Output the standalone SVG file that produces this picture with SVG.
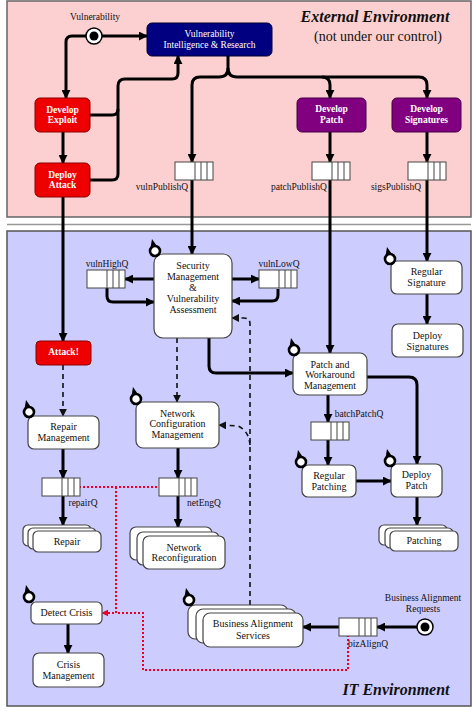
<svg xmlns="http://www.w3.org/2000/svg" width="474" height="711" viewBox="0 0 474 711">
<style>
text{font-family:"Liberation Serif","Times New Roman",serif;font-size:10px;fill:#111;text-anchor:middle}
.w{fill:#fff}
.b{font-weight:bold}
.ql{font-size:9.5px}
.node{fill:#fff;stroke:#444;stroke-width:1.2}
.red{fill:#ee0000;stroke:#800;stroke-width:1}
.pur{fill:#800080;stroke:#404;stroke-width:1}
.navy{fill:#000080;stroke:#003;stroke-width:1}
.c{fill:none;stroke:#000;stroke-width:3}
.d{fill:none;stroke:#111;stroke-width:1.6;stroke-dasharray:5,4}
.r{fill:none;stroke:#e8002a;stroke-width:2;stroke-dasharray:2,2}
</style>
<defs>
<marker id="a" viewBox="0 0 10 10" refX="9" refY="5" markerWidth="9" markerHeight="9" markerUnits="userSpaceOnUse" orient="auto"><path d="M0,0 L10,5 L0,10 z" fill="#000"/></marker>
<marker id="ad" viewBox="0 0 10 10" refX="9" refY="5" markerWidth="8" markerHeight="8" markerUnits="userSpaceOnUse" orient="auto"><path d="M0,0 L10,5 L0,10 z" fill="#111"/></marker>
<marker id="ar" viewBox="0 0 10 10" refX="9" refY="5" markerWidth="7" markerHeight="7" markerUnits="userSpaceOnUse" orient="auto"><path d="M0,0 L10,5 L0,10 z" fill="#e8002a"/></marker>
<g id="q"><rect x="0" y="0" width="38" height="18" fill="#fff" stroke="#444" stroke-width="1"/><path d="M20,0V18M26,0V18M32,0V18" stroke="#444" stroke-width="1"/></g>
<g id="loop"><path d="M-4.5,-3 L-3,-12 L1.5,-5.5 z" fill="#000"/><circle cx="0" cy="0" r="5" fill="#fff" stroke="#000" stroke-width="2.6"/></g>
</defs>

<!-- panels -->
<rect x="7" y="1" width="464" height="216" fill="#fcd0d0" stroke="#666" stroke-width="1.5"/>
<line x1="7" y1="224.5" x2="471" y2="224.5" stroke="#999" stroke-width="1.5"/>
<rect x="7" y="231" width="464" height="475" fill="#ccccff" stroke="#555" stroke-width="1.5"/>
<text x="375" y="22" style="font-size:16px;font-weight:bold;font-style:italic">External Environment</text>
<text x="378" y="41" style="font-size:14px">(not under our control)</text>
<text x="396" y="695" style="font-size:16px;font-weight:bold;font-style:italic">IT Environment</text>

<g id="connectors">
<path class="c" d="M102,36 L147,36" marker-end="url(#a)"/>
<path class="c" d="M86,36 L72,36 Q66,36 66,42 L66,98" marker-end="url(#a)"/>
<path class="c" d="M63,132 L63,163" marker-end="url(#a)"/>
<path class="c" d="M90,180 L112,180 Q118,180 118,174 L118,86 Q118,79 125,79 L172,79 Q178,79 178,73 L178,56" marker-end="url(#a)"/>
<path class="c" d="M90,115 L112,115 Q118,115 118,109"/>
<path class="c" d="M228,56 L228,68 Q228,77 219,77 L200,77 Q192,77 192,85 L192,162" marker-end="url(#a)"/>
<path class="c" d="M228,68 Q228,77 237,77 L322,77 Q330,77 330,85 L330,98" marker-end="url(#a)"/>
<path class="c" d="M322,77 L419,77 Q427,77 427,85 L427,98" marker-end="url(#a)"/>
<path class="c" d="M330,132 L330,162" marker-end="url(#a)"/>
<path class="c" d="M427,132 L427,162" marker-end="url(#a)"/>
<path class="c" d="M192,180 L192,254" marker-end="url(#a)"/>
<path class="c" d="M330,179 L330,353" marker-end="url(#a)"/>
<path class="c" d="M427,179 L427,261" marker-end="url(#a)"/>
<path class="c" d="M63,197 L63,341" marker-end="url(#a)"/>
<path class="c" d="M154,279 L125,279" marker-end="url(#a)"/>
<path class="c" d="M107,288 L107,296 Q107,302 113,302 L154,302" marker-end="url(#a)"/>
<path class="c" d="M232,279 L259,279" marker-end="url(#a)"/>
<path class="c" d="M278,289 L278,295 Q278,301 272,301 L232,301" marker-end="url(#a)"/>
<path class="d" d="M250,605 L250,324 Q250,318 244,318 L232,318" marker-end="url(#ad)"/>
<path class="d" d="M250,445 Q249,431 238,426 L219,425" marker-end="url(#ad)"/>
<path class="d" d="M177,338 L177,402" marker-end="url(#ad)"/>
<path class="c" d="M209,338 L209,366 Q209,373 216,373 L293,373" marker-end="url(#a)"/>
<path class="c" d="M427,294 L427,324" marker-end="url(#a)"/>
<path class="c" d="M367,377 L409,377 Q417,377 417,385 L417,464" marker-end="url(#a)"/>
<path class="c" d="M328,395 L328,422" marker-end="url(#a)"/>
<path class="c" d="M328,440 L328,465" marker-end="url(#a)"/>
<path class="c" d="M356,481 L391,481" marker-end="url(#a)"/>
<path class="c" d="M417,497 L417,525" marker-end="url(#a)"/>
<path class="d" d="M63,365 L63,416" marker-end="url(#ad)"/>
<path class="c" d="M63,449 L63,478" marker-end="url(#a)"/>
<path class="c" d="M63,496 L63,525" marker-end="url(#a)"/>
<path class="c" d="M178,448 L178,478" marker-end="url(#a)"/>
<path class="c" d="M178,496 L178,527" marker-end="url(#a)"/>
<path class="r" d="M79,487 L158,487"/>
<path class="r" d="M116,487 L116,613 L102,613" marker-end="url(#ar)"/>
<path class="r" d="M348,635 L348,670 L143,670 L143,613 L116,613"/>
<path class="c" d="M68,624 L68,653" marker-end="url(#a)"/>
<path class="c" d="M339,627 L303,627" marker-end="url(#a)"/>
<path class="c" d="M417,627 L377,627" marker-end="url(#a)"/>
</g>

<!-- external nodes -->
<g id="vulnerability"><circle cx="94" cy="36" r="8" fill="#fff" stroke="#000" stroke-width="1.5"/><circle cx="94" cy="36" r="4.5" fill="#000"/><text x="95" y="19.5" class="ql">Vulnerability</text></g>
<g id="vir"><rect class="navy" x="147" y="23" width="125" height="33" rx="5"/><text class="w" x="209.5" y="37" style="font-size:9.5px">Vulnerability</text><text class="w" x="209.5" y="48" style="font-size:9.5px">Intelligence &amp; Research</text></g>
<g id="develop-exploit"><rect class="red" x="35" y="98" width="55" height="34" rx="5"/><text class="w b" x="62.5" y="112.5" style="font-size:9.5px">Develop</text><text class="w b" x="62.5" y="123" style="font-size:9.5px">Exploit</text></g>
<g id="deploy-attack"><rect class="red" x="35" y="163" width="55" height="34" rx="5"/><text class="w b" x="62.5" y="177.5" style="font-size:9.5px">Deploy</text><text class="w b" x="62.5" y="188" style="font-size:9.5px">Attack</text></g>
<g id="develop-patch"><rect class="pur" x="297" y="98" width="69" height="34" rx="5"/><text class="w b" x="331.5" y="112" style="font-size:9.5px">Develop</text><text class="w b" x="331.5" y="122.5" style="font-size:9.5px">Patch</text></g>
<g id="develop-signatures"><rect class="pur" x="392" y="98" width="69" height="34" rx="5"/><text class="w b" x="426.5" y="112" style="font-size:9.5px">Develop</text><text class="w b" x="426.5" y="122.5" style="font-size:9.5px">Signatures</text></g>
<g id="vulnPublishQ"><use href="#q" x="175" y="162"/><text class="ql" x="162" y="189.5">vulnPublishQ</text></g>
<g id="patchPublishQ"><use href="#q" x="312" y="162"/><text class="ql" x="299" y="189.5">patchPublishQ</text></g>
<g id="sigsPublishQ"><use href="#q" x="408" y="162"/><text class="ql" x="396" y="189.5">sigsPublishQ</text></g>

<!-- IT nodes -->
<g id="secmgmt"><rect class="node" x="154" y="254" width="78" height="84" rx="9"/><use href="#loop" x="155" y="251"/><text x="193" y="268.5">Security</text><text x="193" y="280">Management</text><text x="193" y="291">&amp;</text><text x="193" y="302">Vulnerability</text><text x="193" y="312.5">Assessment</text></g>
<g id="vulnHighQ"><use href="#q" x="87" y="270"/><text class="ql" x="107" y="266.5">vulnHighQ</text></g>
<g id="vulnLowQ"><use href="#q" x="259" y="270"/><text class="ql" x="279" y="266.5">vulnLowQ</text></g>
<g id="regular-signature"><rect class="node" x="391" y="261" width="71" height="33" rx="6"/><use href="#loop" x="390" y="259"/><text x="426.5" y="274.5">Regular</text><text x="426.5" y="285.5">Signature</text></g>
<g id="deploy-signatures"><rect class="node" x="392" y="324" width="71" height="33" rx="6"/><text x="427.5" y="338.5">Deploy</text><text x="427.5" y="349.5">Signatures</text></g>
<g id="patch-workaround"><rect class="node" x="293" y="353" width="74" height="42" rx="7"/><use href="#loop" x="294" y="350"/><text x="330" y="367.5">Patch and</text><text x="330" y="378">Workaround</text><text x="330" y="388.5">Management</text></g>
<g id="batchPatchQ"><use href="#q" x="311" y="422"/><text class="ql" x="359" y="416.5">batchPatchQ</text></g>
<g id="regular-patching"><rect class="node" x="302" y="465" width="54" height="32" rx="6"/><use href="#loop" x="301" y="462"/><text x="329" y="478.5">Regular</text><text x="329" y="489.5">Patching</text></g>
<g id="deploy-patch"><rect class="node" x="391" y="464" width="51" height="33" rx="6"/><use href="#loop" x="390" y="461"/><text x="416.5" y="477.5">Deploy</text><text x="416.5" y="488.5">Patch</text></g>
<g id="patching"><rect class="node" x="379" y="525" width="68" height="20" rx="5"/><rect class="node" x="385" y="528" width="68" height="20" rx="5"/><rect class="node" x="390" y="531" width="68" height="20" rx="5"/><text x="424" y="544">Patching</text></g>
<g id="attack"><rect class="red" x="36" y="341" width="55" height="24" rx="4"/><text class="w b" x="63.5" y="355" style="font-size:9.5px">Attack!</text></g>
<g id="repair-mgmt"><rect class="node" x="28" y="416" width="71" height="33" rx="6"/><use href="#loop" x="29" y="412"/><text x="63.5" y="429.5">Repair</text><text x="63.5" y="440.5">Management</text></g>
<g id="repairQ"><use href="#q" x="42" y="478"/><text class="ql" x="83" y="505.5">repairQ</text></g>
<g id="repair"><rect class="node" x="23" y="525" width="68" height="21" rx="5"/><rect class="node" x="28" y="528" width="68" height="21" rx="5"/><rect class="node" x="33" y="531" width="68" height="21" rx="5"/><text x="67" y="544.5">Repair</text></g>
<g id="netconfig"><rect class="node" x="136" y="402" width="83" height="46" rx="7"/><use href="#loop" x="136" y="399"/><text x="177.5" y="416.5">Network</text><text x="177.5" y="427">Configuration</text><text x="177.5" y="437.5">Management</text></g>
<g id="netEngQ"><use href="#q" x="159" y="478"/><text class="ql" x="204" y="505.5">netEngQ</text></g>
<g id="netreconf"><rect class="node" x="130" y="527" width="82" height="33" rx="6"/><rect class="node" x="137" y="532" width="82" height="33" rx="6"/><rect class="node" x="143" y="536" width="82" height="33" rx="6"/><text x="184" y="550.5">Network</text><text x="184" y="561">Reconfiguration</text></g>
<g id="detect-crisis"><rect class="node" x="31" y="602" width="71" height="22" rx="5"/><use href="#loop" x="29" y="597"/><text x="66.5" y="616">Detect Crisis</text></g>
<g id="crisis-mgmt"><rect class="node" x="33" y="653" width="71" height="34" rx="6"/><text x="68.5" y="667.5">Crisis</text><text x="68.5" y="678.5">Management</text></g>
<g id="bas"><rect class="node" x="188" y="605" width="100" height="34" rx="7"/><rect class="node" x="196" y="609" width="100" height="34" rx="7"/><rect class="node" x="203" y="613" width="100" height="34" rx="7"/><use href="#loop" x="189" y="600"/><text x="253" y="627">Business Alignment</text><text x="253" y="638.5">Services</text></g>
<g id="bizAlignQ"><use href="#q" x="339" y="618"/><text class="ql" x="368" y="646.5">bizAlignQ</text></g>
<g id="bar"><circle cx="425" cy="627" r="8" fill="#fff" stroke="#000" stroke-width="1.5"/><circle cx="425" cy="627" r="4.5" fill="#000"/><text class="ql" x="423" y="600.5">Business Alignment</text><text class="ql" x="423" y="611.5">Requests</text></g>
</svg>
